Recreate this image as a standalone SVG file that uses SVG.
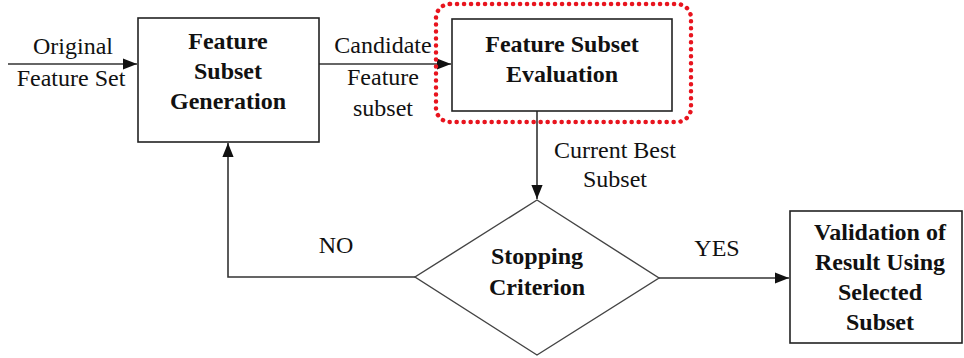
<svg xmlns="http://www.w3.org/2000/svg" width="964" height="358" viewBox="0 0 964 358">
<defs>
<style>
.box{fill:#fff;stroke:#222;stroke-width:1.6}
.ln{fill:none;stroke:#333;stroke-width:1.6}
.b{font-family:"Liberation Serif","Times New Roman",serif;font-weight:bold;font-size:24px;fill:#111;text-anchor:middle}
.r{font-family:"Liberation Serif","Times New Roman",serif;font-size:24px;fill:#111;text-anchor:middle}
</style>
<marker id="ah2" viewBox="0 0 10 10" refX="10" refY="5" markerWidth="14" markerHeight="14" markerUnits="userSpaceOnUse" orient="auto">
<path d="M0,1 L10,5 L0,9 z" fill="#111"/>
</marker>
</defs>
<rect width="964" height="358" fill="#fff"/>
<g id="connectors">
<line class="ln" x1="8" y1="64" x2="137" y2="64" marker-end="url(#ah2)"/>
<line class="ln" x1="319" y1="64" x2="451" y2="64" marker-end="url(#ah2)"/>
<line class="ln" x1="537" y1="111" x2="537" y2="199" marker-end="url(#ah2)"/>
<polyline class="ln" points="415,277 228,277 228,143" marker-end="url(#ah2)"/>
<line class="ln" x1="659" y1="278" x2="789" y2="278" marker-end="url(#ah2)"/>
<text class="r" x="73" y="54">Original</text>
<text class="r" x="71" y="86">Feature Set</text>
<text class="r" x="383" y="53">Candidate</text>
<text class="r" x="383" y="85">Feature</text>
<text class="r" x="383" y="116">subset</text>
<text class="r" x="615" y="158">Current Best</text>
<text class="r" x="615" y="187">Subset</text>
<text class="r" x="336" y="253">NO</text>
<text class="r" x="717" y="256">YES</text>
</g>
<g id="highlight">
<rect x="436" y="4" width="255" height="118" rx="14" ry="14" fill="none" stroke="#e8141e" stroke-width="4.5" stroke-linecap="round" stroke-dasharray="0.1 6.9"/>
</g>
<g id="gen">
<rect class="box" x="138" y="18" width="181" height="124"/>
<text class="b" x="228" y="49">Feature</text>
<text class="b" x="228" y="79">Subset</text>
<text class="b" x="228" y="109">Generation</text>
</g>
<g id="eval">
<rect class="box" x="452" y="19" width="220" height="92"/>
<text class="b" x="562" y="52">Feature Subset</text>
<text class="b" x="562" y="82">Evaluation</text>
</g>
<g id="stop">
<polygon points="537,200 659,278 537,355 415,277" fill="#fff" stroke="#444" stroke-width="1.4"/>
<text class="b" x="537" y="264">Stopping</text>
<text class="b" x="537" y="295">Criterion</text>
</g>
<g id="valid">
<rect class="box" x="790" y="211" width="172" height="132"/>
<text class="b" x="880" y="240">Validation of</text>
<text class="b" x="880" y="270">Result Using</text>
<text class="b" x="880" y="300">Selected</text>
<text class="b" x="880" y="330">Subset</text>
</g>
</svg>
